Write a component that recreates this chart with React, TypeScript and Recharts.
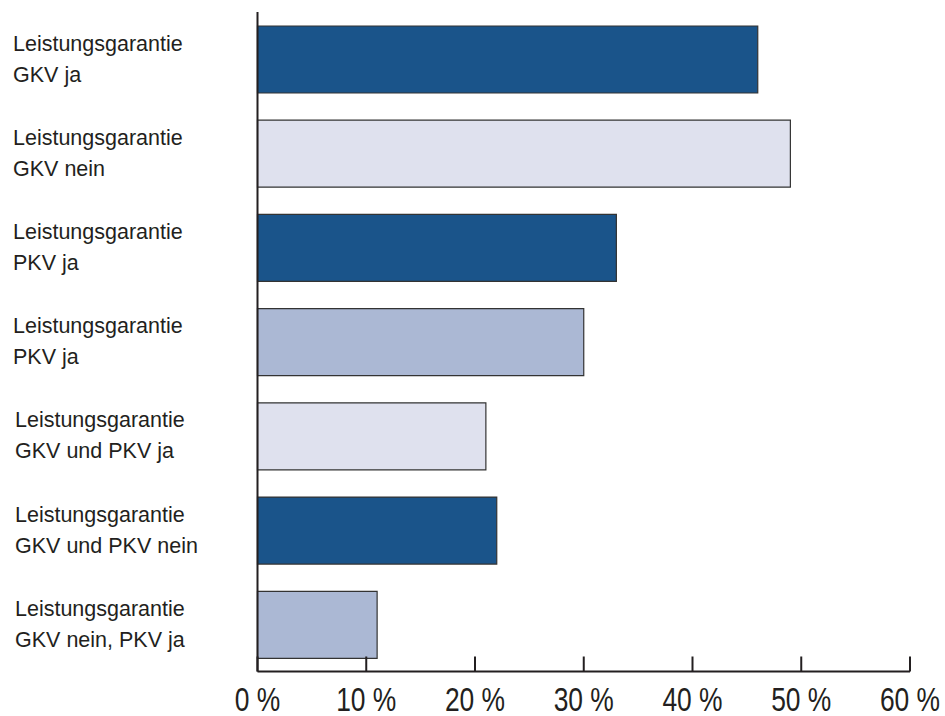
import { BarChart, Bar, XAxis, YAxis, Cell } from "recharts";

const labelTop = [
  "Leistungsgarantie",
  "Leistungsgarantie",
  "Leistungsgarantie",
  "Leistungsgarantie",
  "Leistungsgarantie",
  "Leistungsgarantie",
  "Leistungsgarantie",
];
const labelBottom = [
  "GKV ja",
  "GKV nein",
  "PKV ja",
  "PKV ja",
  "GKV und PKV ja",
  "GKV und PKV nein",
  "GKV nein, PKV ja",
];
const values = [46, 49, 33, 30, 21, 22, 11];
const barColors = ["#1a548a", "#dfe1ee", "#1a548a", "#abb8d4", "#dfe1ee", "#1a548a", "#abb8d4"];
const xTicks = [0, 10, 20, 30, 40, 50, 60];

const data = values.map((v, i) => ({
  key: `c${i}`,
  top: labelTop[i],
  bottom: labelBottom[i],
  value: v,
  color: barColors[i],
}));

const labelFont = "'Liberation Sans', Arial, sans-serif";

const CategoryTick = (props: any) => {
  const { y, index } = props;
  const row = data[index];
  const x = index >= 4 ? 15 : 13;
  return (
    <text x={x} y={y} fontFamily={labelFont} fontSize={21.5} fill="#231f20" textAnchor="start">
      <tspan x={x} y={y - 8.5}>{row.top}</tspan>
      <tspan x={x} y={y + 22.5}>{row.bottom}</tspan>
    </text>
  );
};

// tick labels in the original use a condensed face; squeeze Liberation Sans horizontally
const ValueTick = (props: any) => {
  const { x, y, payload } = props;
  return (
    <g>
      <line x1={x} x2={x} y1={y} y2={y - 15} stroke="#231f20" strokeWidth={2} />
      <text
        transform={`translate(${x},${y + 39}) scale(0.8,1)`}
        x={0}
        y={0}
        fontFamily={labelFont}
        fontSize={33}
        fill="#231f20"
        textAnchor="middle"
      >
        {`${payload.value} %`}
      </text>
    </g>
  );
};

export default function App() {
  return (
    <div style={{ position: "absolute", left: 0, top: 0, background: "#fff" }}>
      <BarChart
        width={945}
        height={716}
        data={data}
        layout="vertical"
        margin={{ top: 12, right: 35, bottom: 0, left: 0 }}
      >
        <XAxis
          type="number"
          domain={[0, 60]}
          ticks={xTicks}
          interval={0}
          height={44.5}
          tickLine={false}
          tickSize={0}
          tickMargin={0}
          axisLine={{ stroke: "#231f20", strokeWidth: 2 }}
          tick={<ValueTick />}
        />
        <YAxis
          type="category"
          dataKey="key"
          width={257.5}
          tickLine={false}
          tickSize={0}
          axisLine={{ stroke: "#231f20", strokeWidth: 2 }}
          tick={<CategoryTick />}
        />
        <Bar dataKey="value" barSize={67} stroke="#333333" strokeWidth={1.2} isAnimationActive={false}>
          {data.map((d) => (
            <Cell key={d.key} fill={d.color} />
          ))}
        </Bar>
      </BarChart>
    </div>
  );
}
